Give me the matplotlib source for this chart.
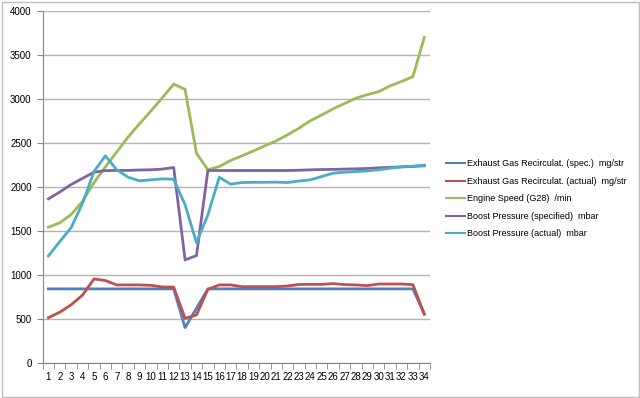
import matplotlib.pyplot as plt
import numpy as np
from matplotlib.patches import Rectangle

# categories (measurement blocks)
cats = list(range(1, 35))

# series values
egr_spec = [845, 845, 845, 845, 845, 845, 845, 845, 845, 845, 845, 845, 405, 625,
            845, 845, 845, 845, 845, 845, 845, 845, 845, 845, 845, 845, 845, 845,
            845, 845, 845, 845, 845, 560]
egr_actual = [518, 580, 665, 775, 958, 940, 890, 890, 890, 885, 867, 865, 510, 550,
              840, 890, 890, 870, 870, 870, 870, 878, 895, 896, 896, 905, 893, 890,
              882, 900, 900, 900, 893, 557]
engine_speed = [1545, 1595, 1690, 1840, 2050, 2230, 2400, 2570, 2720, 2865, 3015, 3170,
                3110, 2385, 2197, 2234, 2303, 2356, 2412, 2469, 2526, 2594, 2670, 2755,
                2820, 2890, 2950, 3010, 3050, 3085, 3150, 3200, 3255, 3700]
boost_spec = [1867, 1945, 2030, 2100, 2170, 2188, 2190, 2190, 2195, 2197, 2205, 2223,
              1174, 1223, 2189, 2189, 2189, 2189, 2189, 2189, 2189, 2189, 2192, 2197,
              2200, 2202, 2205, 2208, 2212, 2220, 2225, 2230, 2235, 2242]
boost_actual = [1219, 1382, 1541, 1818, 2177, 2356, 2197, 2113, 2072, 2083, 2094, 2090,
                1799, 1370, 1685, 2113, 2034, 2052, 2055, 2055, 2057, 2052, 2070, 2083,
                2121, 2159, 2170, 2177, 2185, 2197, 2215, 2231, 2238, 2250]

labels = ['Exhaust Gas Recirculat. (spec.)  mg/str',
          'Exhaust Gas Recirculat. (actual)  mg/str',
          'Engine Speed (G28)  /min',
          'Boost Pressure (specified)  mbar',
          'Boost Pressure (actual)  mbar']
colors = ['#4F81BD', '#C0504D', '#9BBB59', '#8064A2', '#4BACC6']
series = [egr_spec, egr_actual, engine_speed, boost_spec, boost_actual]

plt.rcParams['font.family'] = ['Liberation Sans', 'DejaVu Sans']

W, H = 640, 398
fig = plt.figure(figsize=(W / 100, H / 100), dpi=100)

# chart area border
fig.patches.append(Rectangle((1.5 / W, 1.5 / H), (W - 3) / W, (H - 3) / H,
                             transform=fig.transFigure, fill=False,
                             edgecolor='#BEBEBE', linewidth=1))

ax = fig.add_axes([42.7 / W, (H - 363.3) / H, (430 - 42.7) / W, (363.3 - 11) / H])

for vals, lab, col in zip(series, labels, colors):
    ax.plot(cats, vals, color=col, linewidth=2, label=lab, solid_joinstyle='round')

ax.set_xlim(0.5, 34.5)
ax.set_ylim(0, 4000)
ax.set_yticks(np.arange(0, 4001, 500))
ax.set_xticks(cats)
ax.set_xticks(np.arange(0.5, 35, 1), minor=True)
ax.grid(axis='y', color='#B3B3B3', linewidth=1)
ax.set_axisbelow(True)

for s in ['top', 'right']:
    ax.spines[s].set_visible(False)
for s in ['left', 'bottom']:
    ax.spines[s].set_color('#868686')
ax.tick_params(axis='y', length=4, color='#868686', labelsize=7, pad=4)
ax.tick_params(axis='x', which='major', length=0, labelsize=7, pad=6)
ax.tick_params(axis='x', which='minor', length=4, color='#868686')

leg = ax.legend(loc='upper left', bbox_to_anchor=(438 / W, 1 - 151 / H),
                bbox_transform=fig.transFigure, frameon=False, fontsize=6.5,
                handlelength=2.1, handletextpad=0.25, labelspacing=0.95)
for line in leg.get_lines():
    line.set_linewidth(1.5)

fig.savefig('out.png', dpi=100)
